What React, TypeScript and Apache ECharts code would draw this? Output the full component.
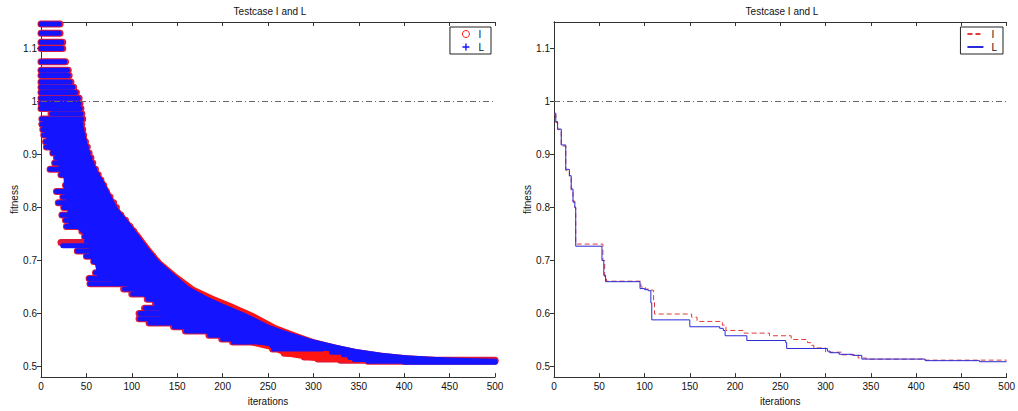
import React, { useEffect, useRef } from 'react';
import * as echarts from 'echarts';

// ---------- data ----------
const X_MIN = 0;
const X_MAX = 500;
const X_STEP = 50;
const Y_MIN = 0.48;
const Y_MAX = 1.15;
const Y_TICKS = [0.5, 0.6, 0.7, 0.8, 0.9, 1, 1.1];
const TITLE = 'Testcase I and L';
const REF_LEVEL = [[0, 1], [500, 1]];

// left panel: outline of the dense marker mass [iteration, fitness]
// (upper edge left -> right, then lower edge right -> left)
const I_MASS = [
  [2, 0.968], [46, 0.968], [48, 0.95], [55, 0.9], [63, 0.87], [70, 0.85], [85, 0.8], [97, 0.775],
  [109, 0.75], [120, 0.725], [132, 0.7], [150, 0.674], [169, 0.65], [190, 0.633], [209, 0.62],
  [235, 0.6], [259, 0.578], [280, 0.564], [300, 0.552], [325, 0.541], [347, 0.533], [375, 0.526],
  [402, 0.521], [435, 0.518], [469, 0.516], [502, 0.515],
  [502, 0.506], [340, 0.508], [300, 0.511], [268, 0.52], [256, 0.53], [215, 0.547], [190, 0.558],
  [150, 0.578], [132, 0.595], [130, 0.615], [105, 0.64], [95, 0.652], [62, 0.668], [60, 0.69],
  [54, 0.705], [52, 0.74], [40, 0.76], [30, 0.77], [29, 0.8], [26, 0.82], [25, 0.855], [20, 0.87],
  [18, 0.9], [8, 0.91], [6, 0.93], [3, 0.95],
];
const L_MASS = [
  [2, 0.968], [45, 0.968], [47, 0.95], [54, 0.9], [62, 0.87], [69, 0.85], [84, 0.8], [96, 0.775],
  [107, 0.75], [118, 0.725], [130, 0.7], [146, 0.676], [163, 0.651], [183, 0.632], [200, 0.619],
  [226, 0.6], [252, 0.578], [275, 0.564], [298, 0.552], [325, 0.541], [347, 0.533], [375, 0.526],
  [402, 0.521], [435, 0.518], [469, 0.516], [502, 0.514],
  [502, 0.507], [345, 0.511], [335, 0.527], [300, 0.531], [260, 0.536], [215, 0.548], [190, 0.558],
  [150, 0.578], [132, 0.595], [130, 0.615], [105, 0.64], [95, 0.652], [62, 0.668], [60, 0.69],
  [54, 0.705], [52, 0.74], [40, 0.76], [30, 0.77], [29, 0.8], [26, 0.82], [25, 0.855], [20, 0.87],
  [18, 0.9], [8, 0.91], [6, 0.93], [3, 0.95],
];

// left panel: horizontal marker streaks [first iteration, last iteration, fitness]
const I_STREAKS = [
  [0, 21, 1.146], [0, 21, 1.129], [0, 24, 1.112], [0, 24, 1.1], [0, 27, 1.075], [0, 30, 1.059],
  [0, 31, 1.049], [0, 33, 1.037], [0, 36, 1.027], [0, 39, 1.017], [0, 42, 1.006], [0, 43, 0.996],
  [0, 44, 0.987], [11, 45, 0.977], [1, 46, 0.967], [1, 45, 0.957], [2, 46, 0.947], [3, 47, 0.937],
  [5, 49, 0.924], [6, 51, 0.914], [13, 53, 0.903], [17, 55, 0.894], [15, 57, 0.884], [10, 60, 0.872],
  [22, 63, 0.862], [37, 66, 0.852], [27, 69, 0.842], [17, 72, 0.83], [24, 76, 0.82], [19, 80, 0.809],
  [25, 83, 0.8], [23, 88, 0.786], [27, 93, 0.776], [28, 98, 0.764], [45, 102, 0.755], [48, 106, 0.745],
  [22, 110, 0.734], [40, 117, 0.718], [50, 123, 0.708], [58, 128, 0.698], [74, 133, 0.687], [60, 139, 0.677],
  [53, 146, 0.666], [54, 153, 0.656], [91, 160, 0.646], [100, 170, 0.637], [117, 182, 0.627], [126, 192, 0.619],
  [114, 202, 0.61], [108, 210, 0.6], [108, 220, 0.59], [119, 231, 0.582], [146, 240, 0.575], [159, 250, 0.567],
  [185, 262, 0.559], [199, 272, 0.552], [211, 282, 0.546], [253, 295, 0.539], [255, 312, 0.533], [268, 330, 0.525],
  [290, 345, 0.518], [305, 390, 0.514], [330, 500, 0.512], [360, 500, 0.51],
];
const L_STREAKS = [
  [0, 20, 1.146], [0, 20, 1.129], [0, 23, 1.112], [0, 23, 1.1], [0, 26, 1.075], [0, 29, 1.059],
  [0, 30, 1.049], [0, 32, 1.037], [0, 35, 1.027], [0, 38, 1.017], [0, 41, 1.006], [0, 42, 0.996],
  [0, 43, 0.987], [12, 44, 0.977], [1, 45, 0.967], [1, 44, 0.957], [2, 45, 0.947], [3, 46, 0.937],
  [5, 48, 0.924], [6, 50, 0.914], [13, 52, 0.903], [17, 54, 0.894], [15, 56, 0.884], [10, 59, 0.872],
  [22, 62, 0.862], [37, 65, 0.852], [27, 68, 0.842], [17, 71, 0.83], [24, 74, 0.82], [19, 78, 0.809],
  [25, 81, 0.8], [23, 86, 0.786], [27, 90, 0.776], [28, 95, 0.764], [68, 99, 0.756], [48, 103, 0.745],
  [50, 107, 0.737], [24, 107, 0.728], [40, 114, 0.718], [50, 121, 0.708], [58, 124, 0.698], [75, 129, 0.687],
  [60, 135, 0.677], [53, 142, 0.666], [54, 148, 0.656], [92, 155, 0.646], [101, 164, 0.637], [118, 175, 0.627],
  [127, 185, 0.619], [115, 195, 0.61], [109, 200, 0.6], [109, 212, 0.59], [120, 223, 0.582], [147, 232, 0.575],
  [160, 243, 0.567], [186, 255, 0.559], [200, 265, 0.552], [212, 275, 0.546], [254, 290, 0.539], [256, 310, 0.533],
  [320, 340, 0.527], [333, 360, 0.522], [340, 395, 0.517], [345, 440, 0.513], [360, 500, 0.51], [400, 500, 0.508],
];

// right panel: best fitness per iteration [iteration, fitness] (step changes)
const I_BEST = [
  [0, 0.975], [2, 0.96], [4, 0.947], [8, 0.916], [13, 0.87], [17, 0.858], [19, 0.83], [21, 0.812], [23, 0.8],
  [24, 0.731], [54, 0.7], [56, 0.665], [58, 0.661], [96, 0.65], [101, 0.646], [105, 0.644], [110, 0.625],
  [111, 0.599], [152, 0.593], [158, 0.585], [186, 0.578], [190, 0.568], [210, 0.563], [238, 0.558], [262, 0.551],
  [280, 0.545], [284, 0.54], [287, 0.535], [300, 0.527], [318, 0.522], [336, 0.516], [345, 0.514], [410, 0.512],
  [500, 0.511],
];
const L_BEST = [
  [0, 0.978], [2, 0.962], [4, 0.948], [8, 0.918], [13, 0.872], [17, 0.86], [19, 0.835], [21, 0.81], [23, 0.8],
  [24, 0.727], [53, 0.7], [55, 0.672], [57, 0.66], [95, 0.647], [100, 0.645], [104, 0.643], [107, 0.62],
  [108, 0.588], [150, 0.575], [183, 0.572], [187, 0.568], [189, 0.558], [213, 0.549], [256, 0.545], [257, 0.534],
  [302, 0.529], [305, 0.526], [315, 0.523], [330, 0.521], [340, 0.514], [410, 0.511], [470, 0.509], [500, 0.509],
];

// ---------- styling ----------
const FONT = 'Liberation Sans, Arial, sans-serif';
const AXIS_COLOR = '#333';
const RED = '#ff1414';
const STREAK_RED = '#dc1a3c';
const BLUE = '#1414ff';
const LINE_RED = '#e23a3a';
const LINE_BLUE = '#2a2ad6';
const PLUS_PATH = 'path://M4,0H6V4H10V6H6V10H4V6H0V4H4Z';

function xAxes(gridIndex: number) {
  const common = {
    type: 'value', gridIndex, min: X_MIN, max: X_MAX, interval: X_STEP,
    splitLine: { show: false },
    axisLine: { show: true, lineStyle: { color: AXIS_COLOR, width: 1 } },
    axisTick: { show: true, inside: true, length: 4, lineStyle: { color: AXIS_COLOR } },
  };
  return [
    {
      ...common, position: 'bottom',
      axisLabel: { show: true, margin: 4, fontSize: 10, color: '#111', fontFamily: FONT },
      name: 'iterations', nameLocation: 'middle', nameGap: 16,
      nameTextStyle: { fontSize: 10, color: '#111', fontFamily: FONT },
    },
    { ...common, position: 'top', axisLabel: { show: false } },
  ];
}

function yAxes(gridIndex: number, nameGap: number) {
  const common = {
    type: 'value', gridIndex, min: Y_MIN, max: Y_MAX,
    splitLine: { show: false },
    axisLine: { show: true, lineStyle: { color: AXIS_COLOR, width: 1 } },
  };
  return [
    {
      ...common, position: 'left',
      axisTick: { show: true, inside: false, length: 3, customValues: Y_TICKS, lineStyle: { color: AXIS_COLOR } },
      axisLabel: { show: true, margin: 4, fontSize: 10, color: '#111', fontFamily: FONT, customValues: Y_TICKS },
      name: 'fitness', nameLocation: 'middle', nameGap, nameRotate: 90,
      nameTextStyle: { fontSize: 10, color: '#111', fontFamily: FONT },
    },
    {
      ...common, position: 'right',
      axisTick: { show: true, inside: true, length: 4, customValues: Y_TICKS, lineStyle: { color: AXIS_COLOR } },
      axisLabel: { show: false },
    },
  ];
}

function streakSeries(name: string, data: number[][], color: string, h: number, xi: number, yi: number) {
  return {
    type: 'custom', name, xAxisIndex: xi, yAxisIndex: yi, data,
    encode: { x: [0, 1], y: 2 },
    itemStyle: { color },
    silent: true,
    renderItem: (_params: any, api: any) => {
      const s = api.value(0);
      const e = api.value(1);
      const v = api.value(2);
      const p0 = api.coord([s, v]);
      const p1 = api.coord([e, v]);
      return {
        type: 'rect',
        shape: { x: p0[0] - h / 2, y: p0[1] - h / 2, width: p1[0] - p0[0] + h, height: h, r: h / 2 },
        style: { fill: color },
      };
    },
  };
}

function massSeries(name: string, pts: number[][], color: string, xi: number, yi: number) {
  return {
    type: 'custom', name, xAxisIndex: xi, yAxisIndex: yi, data: pts,
    encode: { x: 0, y: 1 },
    silent: true,
    renderItem: (params: any, api: any) => {
      if (params.dataIndex !== 0) return null;
      const points = pts.map((p) => api.coord(p));
      return { type: 'polygon', shape: { points }, style: { fill: color } };
    },
  };
}

function refSeries(xi: number, yi: number) {
  return {
    type: 'line', name: 'ref', xAxisIndex: xi, yAxisIndex: yi, data: REF_LEVEL,
    symbol: 'none', silent: true,
    lineStyle: { color: '#666', width: 1, type: [6, 3, 1, 3] },
  };
}

function titleText(x: number) {
  return {
    type: 'text', x, y: 11,
    style: {
      text: TITLE, fontSize: 10, fontFamily: FONT, fill: '#111',
      textAlign: 'center', textVerticalAlign: 'middle', align: 'center', verticalAlign: 'middle',
    },
  };
}

const option: any = {
  animation: false,
  backgroundColor: '#fff',
  grid: [
    { left: 41, right: 523, top: 22, bottom: 32 },
    { left: 554, right: 10, top: 22, bottom: 32 },
  ],
  xAxis: [...xAxes(0), ...xAxes(1)],
  yAxis: [...yAxes(0, 19), ...yAxes(1, 22)],
  graphic: [titleText(270), titleText(782)],
  legend: [
    {
      orient: 'vertical', right: 527, top: 27,
      backgroundColor: '#fff', borderColor: '#222', borderWidth: 1, borderRadius: 0,
      padding: [2, 7, 2, 12], itemGap: 3, itemWidth: 7, itemHeight: 7,
      textStyle: { fontSize: 10, color: '#111', fontFamily: FONT, padding: [0, 0, 0, 4] },
      formatter: (n: string) => n.charAt(0),
      data: [
        { name: 'I_a', icon: 'circle', itemStyle: { color: '#fff', borderColor: RED, borderWidth: 1 } },
        { name: 'L_a', icon: PLUS_PATH, itemStyle: { color: BLUE, borderWidth: 0 } },
      ],
    },
    {
      orient: 'vertical', right: 15, top: 27,
      backgroundColor: '#fff', borderColor: '#222', borderWidth: 1, borderRadius: 0,
      padding: [2, 6, 2, 6], itemGap: 3, itemWidth: 16, itemHeight: 8,
      textStyle: { fontSize: 10, color: '#111', fontFamily: FONT, padding: [0, 0, 0, 3] },
      formatter: (n: string) => n.charAt(0),
      data: [
        { name: 'I_b', itemStyle: { opacity: 0 } },
        { name: 'L_b', itemStyle: { opacity: 0 } },
      ],
    },
  ],
  series: [
    refSeries(0, 0),
    streakSeries('I_a', I_STREAKS, STREAK_RED, 7, 0, 0),
    massSeries('I_mass', I_MASS, RED, 0, 0),
    streakSeries('L_a', L_STREAKS, BLUE, 5, 0, 0),
    massSeries('L_mass', L_MASS, BLUE, 0, 0),
    refSeries(2, 2),
    {
      type: 'line', name: 'I_b', xAxisIndex: 2, yAxisIndex: 2, data: I_BEST, step: 'end',
      symbol: 'none', silent: true, itemStyle: { color: LINE_RED },
      lineStyle: { color: LINE_RED, width: 1, type: [5, 3] },
    },
    {
      type: 'line', name: 'L_b', xAxisIndex: 2, yAxisIndex: 2, data: L_BEST, step: 'end',
      symbol: 'none', silent: true, itemStyle: { color: LINE_BLUE },
      lineStyle: { color: LINE_BLUE, width: 1, type: 'solid' },
    },
  ],
};

export default function App() {
  const ref = useRef<HTMLDivElement>(null);
  useEffect(() => {
    document.body.style.margin = '0';
    const chart = echarts.init(ref.current as HTMLDivElement, null, { renderer: 'svg' });
    chart.setOption(option);
    return () => chart.dispose();
  }, []);
  return <div ref={ref} style={{ width: 1018, height: 411, background: '#fff' }} />;
}
